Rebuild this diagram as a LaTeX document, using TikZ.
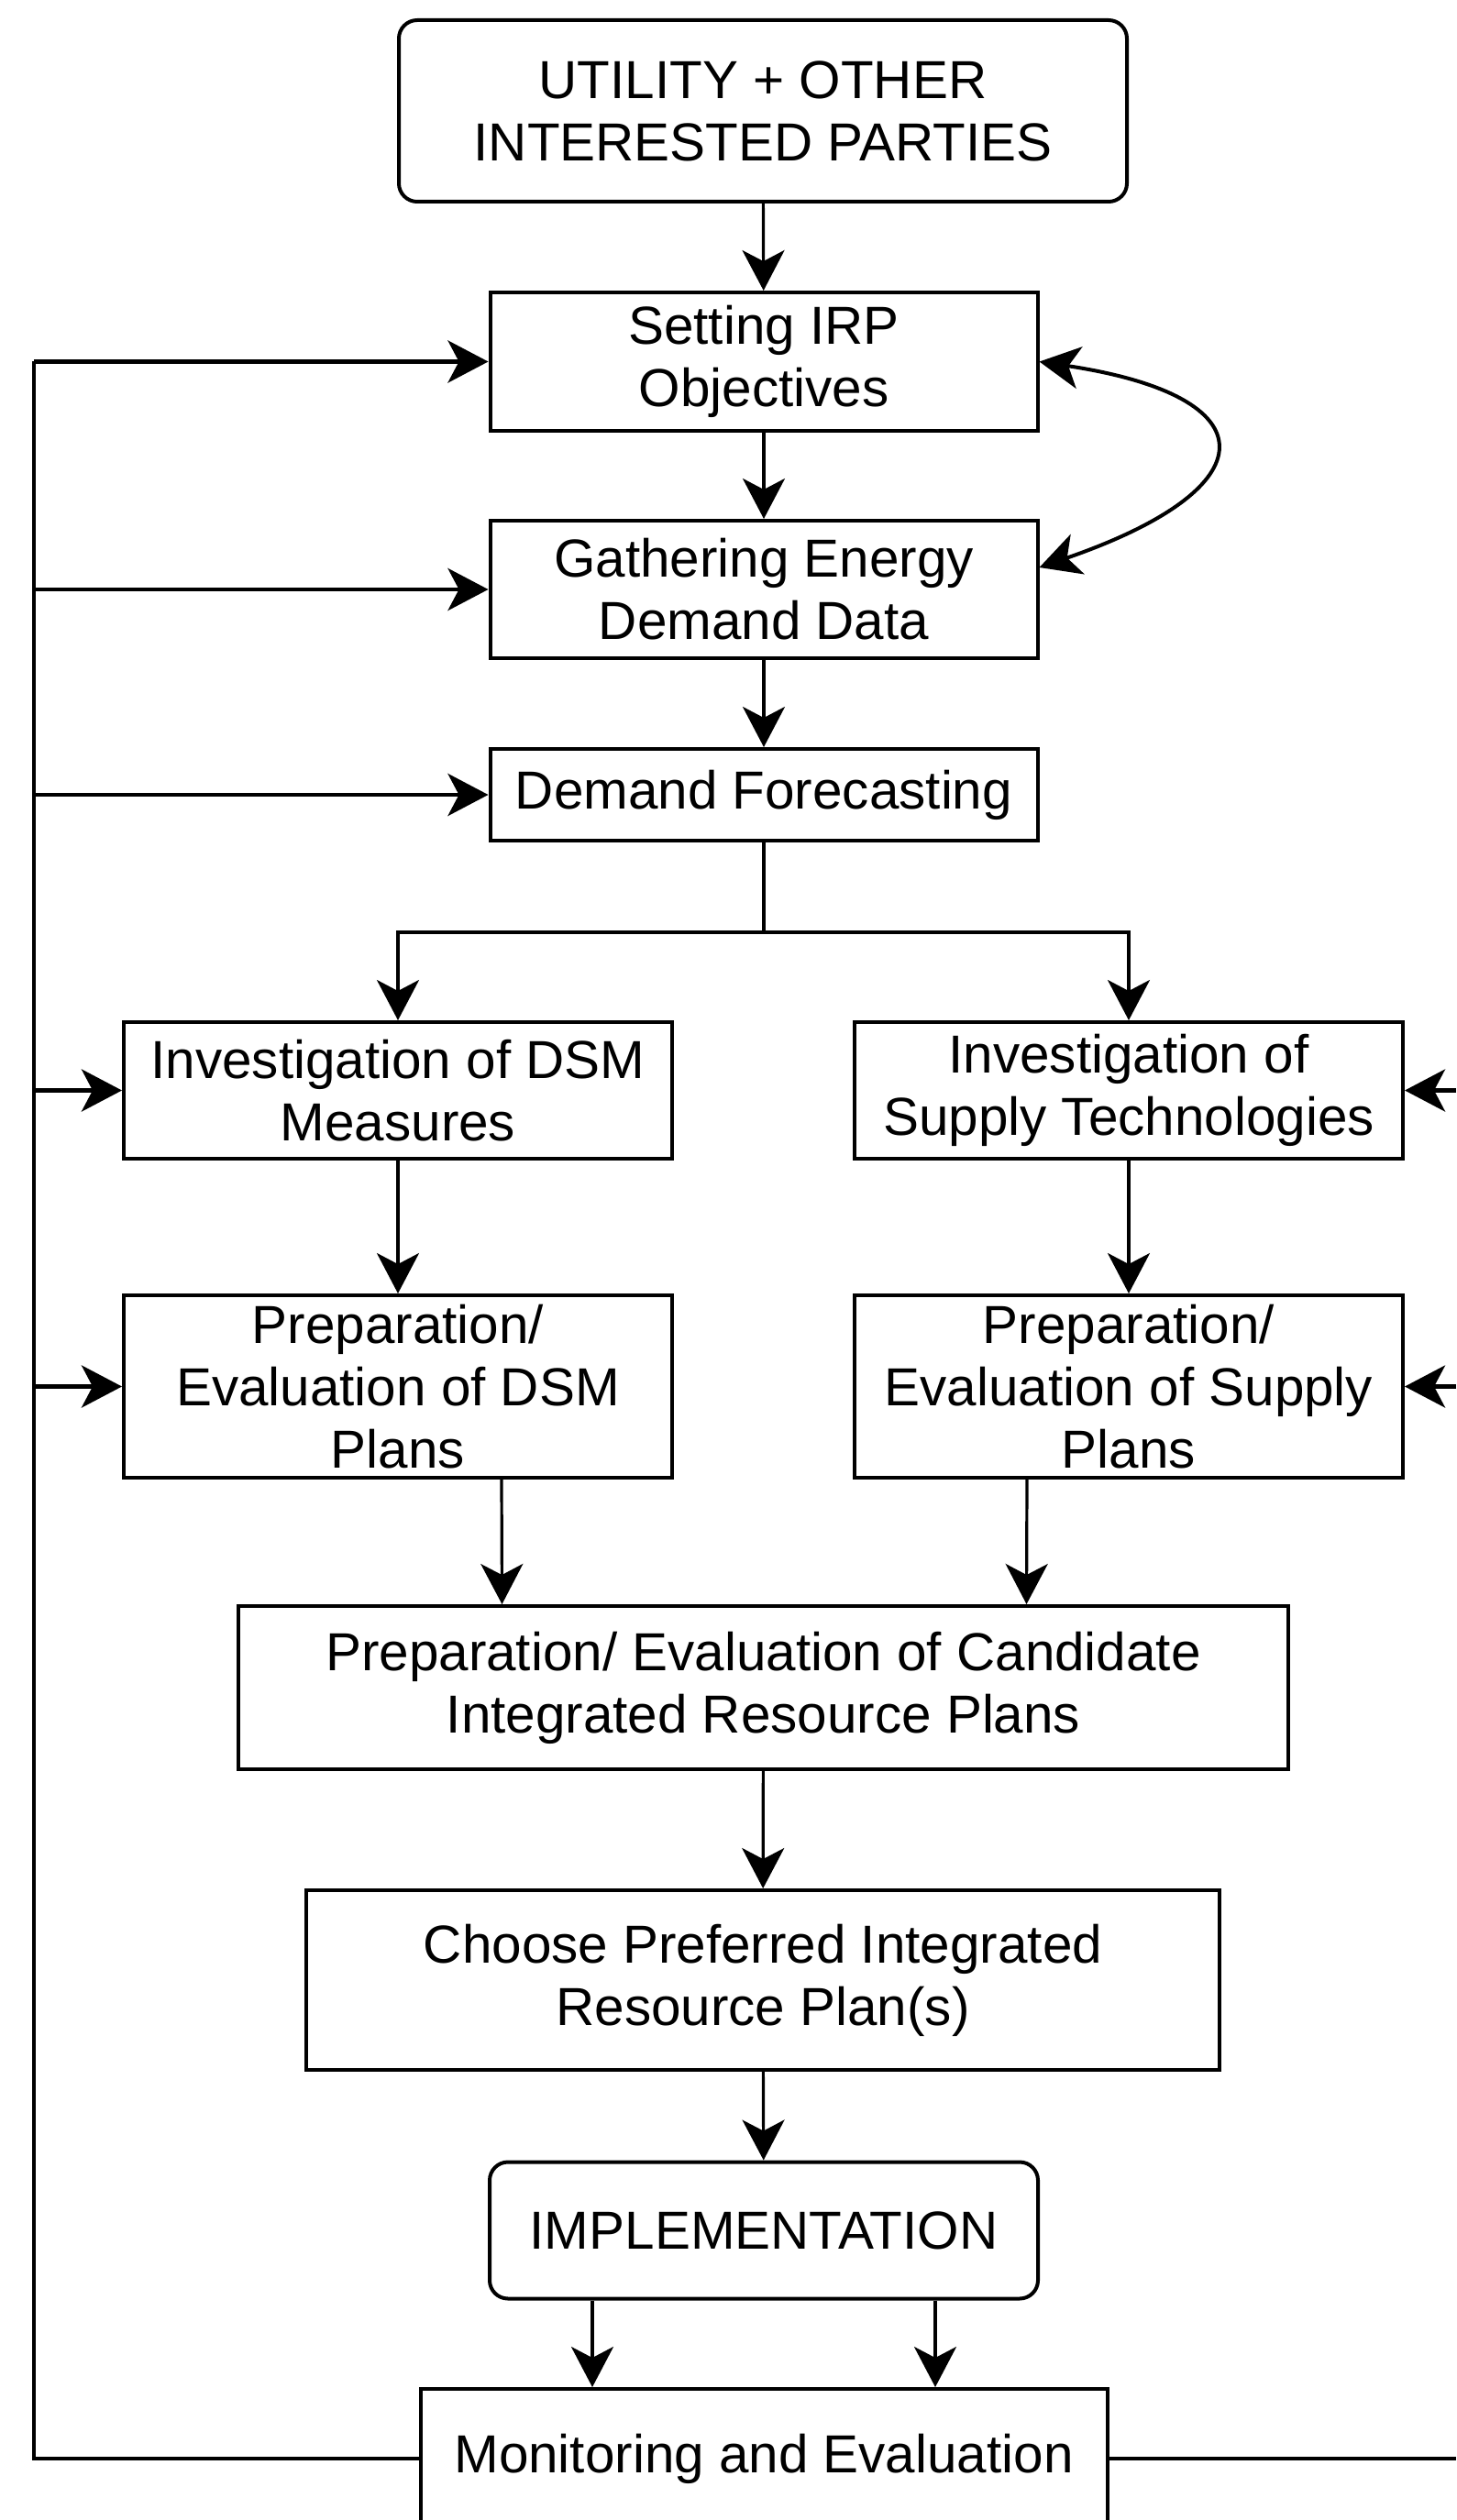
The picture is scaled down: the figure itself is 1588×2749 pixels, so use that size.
\documentclass[tikz,border=0pt]{standalone}
\usepackage{fontspec}
\setmainfont{Liberation Sans}
\usetikzlibrary{arrows.meta}

\tikzset{
  box/.style={draw, line width=1pt, fill=white, inner sep=0pt, align=center,
    font=\fontsize{14.6}{17}\selectfont},
  rbox/.style={box, rounded corners=5pt},
  tip/.style={Stealth[length=11pt, width=11.5pt, inset=3pt]},
  arr/.style={line width=0.8pt, -{Stealth[length=11pt, width=11.5pt, inset=3pt]}},
  fbline/.style={line width=1.2pt},
  fbarr/.style={fbline, -{Stealth[length=11pt, width=11.5pt, inset=3pt]}},
}

\begin{document}
\begin{tikzpicture}[x=0.25pt,y=0.25pt,yscale=-1,xscale=1]
  \useasboundingbox (0,0) rectangle (1588,2749);
  \clip (0,0) rectangle (1588,2749);

  \node[rbox, minimum width=198.5pt, minimum height=49.5pt] (util) at (832,121) {UTILITY + OTHER\\INTERESTED PARTIES};
  \node[box, minimum width=149.25pt, minimum height=37.75pt] (irp) at (833,394.5) {Setting IRP\\Objectives};
  \node[box, minimum width=149.25pt, minimum height=37.5pt] (data) at (833,643) {Gathering Energy\\Demand Data};
  \node[box, minimum width=149.25pt, minimum height=25pt] (fcst) at (833,867) {Demand Forecasting};
  \node[box, minimum width=149.5pt, minimum height=37.25pt] (invdsm) at (434,1189.5) {Investigation of DSM\\Measures};
  \node[box, minimum width=149.5pt, minimum height=37.25pt] (invsup) at (1231,1189.5) {Investigation of\\Supply Technologies};
  \node[box, minimum width=149.5pt, minimum height=49.75pt] (prepdsm) at (434,1512.5) {Preparation/\\Evaluation of DSM\\Plans};
  \node[box, minimum width=149.5pt, minimum height=49.75pt] (prepsup) at (1231,1512.5) {Preparation/\\Evaluation of Supply\\Plans};
  \node[box, minimum width=286.25pt, minimum height=44.5pt] (cand) at (832.5,1841) {Preparation/ Evaluation of Candidate\\Integrated Resource Plans};
  \node[box, minimum width=249pt, minimum height=49pt] (pref) at (832,2160) {Choose Preferred Integrated\\Resource Plan(s)};
  \node[rbox, minimum width=149.5pt, minimum height=37.25pt] (impl) at (833,2433) {IMPLEMENTATION};
  \node[box, minimum width=187.25pt, minimum height=38pt] (mon) at (833,2682) {Monitoring and Evaluation};

  \coordinate (split) at (833,1017);
  \coordinate (lft) at (37,0);
  \coordinate (rgt) at (1588,0);

  % main flow
  \draw[arr] (util) -- (irp);
  \draw[arr] (irp) -- (data);
  \draw[arr] (data) -- (fcst);
  \draw[line width=0.8pt] (fcst) -- (split);
  \draw[arr] (split) -| (invdsm);
  \draw[arr] (split) -| (invsup);
  \draw[arr] (invdsm) -- (prepdsm);
  \draw[arr] (invsup) -- (prepsup);
  \draw[arr] ([xshift=28.25pt]prepdsm.south) -- ([xshift=-71.25pt]cand.north);
  \draw[arr] ([xshift=-27.75pt]prepsup.south) -- ([xshift=71.75pt]cand.north);
  \draw[arr] (cand) -- (pref);
  \draw[arr] (pref) -- (impl);
  \draw[arr] ([xshift=-46.75pt]impl.south) -- ([xshift=-46.75pt]mon.north);
  \draw[arr] ([xshift=46.75pt]impl.south) -- ([xshift=46.75pt]mon.north);

  \draw[line width=1pt, {Stealth[length=11pt, width=11.5pt, inset=3pt]}-{Stealth[length=11pt, width=11.5pt, inset=3pt]}]
    (irp.east) .. controls +(252,38) and +(252,-87) .. ([yshift=-6pt]data.east);

  % feedback
  \draw[fbline] (mon.west) -- (mon.west -| lft) -- (irp.west -| lft);
  \draw[fbarr] (irp.west -| lft) -- (irp.west);
  \draw[fbarr] (data.west -| lft) -- (data.west);
  \draw[fbarr] (fcst.west -| lft) -- (fcst.west);
  \draw[fbarr] (invdsm.west -| lft) -- (invdsm.west);
  \draw[fbarr] (prepdsm.west -| lft) -- (prepdsm.west);
  \draw[fbline] (mon.east) -- (mon.east -| rgt);
  \draw[fbarr] (invsup.east -| rgt) -- (invsup.east);
  \draw[fbarr] (prepsup.east -| rgt) -- (prepsup.east);
\end{tikzpicture}
\end{document}
